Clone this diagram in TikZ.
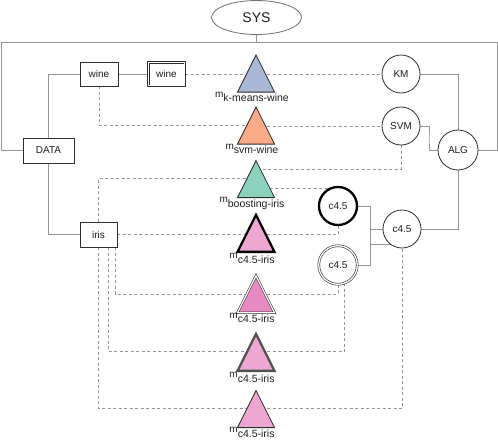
\documentclass[tikz,border=0pt]{standalone}
\usepackage{fontspec}
\setmainfont{Liberation Sans}
\usetikzlibrary{shapes.geometric,backgrounds,calc}
\definecolor{kmcol}{RGB}{170,184,216}
\definecolor{svmcol}{RGB}{253,170,137}
\definecolor{bstcol}{RGB}{140,209,188}
\definecolor{pinkl}{RGB}{237,167,210}
\definecolor{pinkd}{RGB}{231,138,195}
\definecolor{edgecol}{RGB}{150,150,150}
\definecolor{bordcol}{RGB}{45,45,45}
\definecolor{greybord}{RGB}{80,80,80}
\definecolor{txtcol}{RGB}{30,30,30}
\definecolor{syscol}{RGB}{110,110,110}
\begin{document}
\begin{tikzpicture}[x=1pt,y=-1pt,
  font=\fontsize{10}{12}\selectfont, text=txtcol,
  box/.style={draw=bordcol, line width=0.8pt, fill=white, inner sep=0, minimum height=24pt},
  dbox/.style={draw=bordcol, double=white, double distance=1.3pt, line width=0.6pt, fill=white, inner sep=0},
  algc/.style={circle, draw=bordcol, line width=0.8pt, fill=white, inner sep=0, minimum size=38pt},
  thickc/.style={circle, draw=black, line width=2.3pt, fill=white, inner sep=0, minimum size=38pt},
  dblc/.style={circle, draw=bordcol, double=white, double distance=1.3pt, line width=0.6pt, fill=white, inner sep=0, minimum size=38.5pt},
  mtri/.style={isosceles triangle, isosceles triangle stretches, shape border rotate=90,
    minimum width=37pt, minimum height=37pt, inner sep=0, draw=bordcol, line width=0.8pt, anchor=lower side},
  lab/.style={anchor=base, inner sep=0},
  solidc/.style={draw=edgecol, line width=0.9pt},
  dashc/.style={draw=edgecol, line width=0.9pt, dash pattern=on 3pt off 2.5pt},
]
\useasboundingbox (0,0) rectangle (498,447);
\newcommand{\mlab}[1]{m\raisebox{-4.5pt}{\fontsize{10.5}{12}\selectfont #1}}

% top
\node[ellipse, draw=syscol, line width=0.8pt, fill=white, minimum width=90pt, minimum height=34pt, inner sep=0, font=\fontsize{14}{16}\selectfont] (sys) at (256.5,17.5) {SYS};
\coordinate (tl) at (1,42);
\coordinate (tr) at (497,42);

% data
\node[box, minimum width=51pt, minimum height=25pt] (data) at (48.5,150.5) {DATA};
\node[box, minimum width=38pt] (wine1) at (99,74) {wine};
\node[dbox, minimum width=36.5pt, minimum height=23.5pt] (wine2) at (166.5,74) {wine};
\node[box, minimum width=37pt, minimum height=25pt] (iris) at (98.5,234.5) {iris};

% algorithms
\node[algc] (km) at (401,74) {KM};
\node[algc] (svm) at (401,126) {SVM};
\node[algc, minimum size=40pt] (alg) at (458,150) {ALG};
\node[algc] (mid) at (402,229) {c4.5};
\node[thickc] (c1) at (338,206) {c4.5};
\node[dblc] (c2) at (338,265) {c4.5};

% models (placed by the middle of their base)
\node[mtri, fill=kmcol] (kmt) at (256,92.5) {};
\node[mtri, fill=svmcol] (svmt) at (256,144.5) {};
\node[mtri, fill=bstcol] (bst) at (256,198) {};
\node[mtri, fill=pinkl, draw=black, line width=2.3pt] (c45a) at (256,253) {};
\node[mtri, fill=pinkd, double=white, double distance=1.2pt, line width=0.6pt] (c45b) at (256,313) {};
\node[mtri, fill=pinkl, draw=greybord, line width=2.3pt] (c45c) at (256,372) {};
\node[mtri, fill=pinkl] (c45d) at (256,428) {};
\foreach \t in {kmt,svmt,bst,c45a,c45b,c45c,c45d}
  \coordinate (\t-c) at ($(\t.apex)!.5!(\t.lower side)$);

\node[lab] at ($(kmt.lower side)+(-4,4.5)$) {\mlab{k-means-wine}};
\node[lab] at ($(svmt.lower side)+(-4,4.5)$) {\mlab{svm-wine}};
\node[lab] at ($(bst.lower side)+(-4,4.5)$) {\mlab{boosting-iris}};
\node[lab] at ($(c45a.lower side)+(-4,5.5)$) {\mlab{c4.5-iris}};
\node[lab] at ($(c45b.lower side)+(-4,5)$) {\mlab{c4.5-iris}};
\node[lab] at ($(c45c.lower side)+(-4,5.5)$) {\mlab{c4.5-iris}};
\node[lab] at ($(c45d.lower side)+(-4,4.5)$) {\mlab{c4.5-iris}};

\begin{scope}[on background layer]
  % solid
  \draw[solidc] (sys.south) |- (tl) |- (data.west);
  \draw[solidc] (sys.south) |- (tr) |- (alg.east);
  \draw[solidc] (data.north) |- (wine1.west);
  \draw[solidc] (wine1.east) -- (wine2.west);
  \draw[solidc] (data.south) |- (iris.west);
  \draw[solidc] (km.east) -| (alg.north);
  \draw[solidc] (svm.east) -| ($(svm.east)!.5!(alg.west)$) |- (alg.west);
  \draw[solidc] (mid.east) -| (alg.south);
  \draw[solidc] (c1.east) -| ($(c1.east)!.5!(mid.west)$) |- (mid.west);
  \draw[solidc] (c2.east) -| ($(c1.east)!.5!(mid.west)$) |- (mid.235);
  % dashed
  \draw[dashc] (wine2.east) -- (kmt-c |- wine2.east);
  \draw[dashc] (kmt-c |- km.west) -- (km.west);
  \draw[dashc] (wine1.south) |- (svmt-c);
  \draw[dashc] (svmt-c |- svm.west) -- (svm.west);
  \draw[dashc] (iris.north) |- (bst-c);
  \draw[dashc] (svm.south) |- ($(bst-c)+(0,-9)$);
  \draw[dashc] (c1.120) -- (c1.120 -| bst-c);
  \draw[dashc] (iris.east) -- (c45a-c |- iris.east);
  \draw[dashc] (c45a-c |- iris.east) -| (c1.south);
  \draw[dashc] ($(iris.south)+(16.5,0)$) |- (c45b-c);
  \draw[dashc] (c45b-c) -| (c2.south);
  \draw[dashc] ($(iris.south)+(10,0)$) |- (c45c-c);
  \draw[dashc] (c45c-c) -| (c2.-70);
  \draw[dashc] (iris.south) |- (c45d-c);
  \draw[dashc] (c45d-c) -| (mid.south);
\end{scope}
\end{tikzpicture}
\end{document}
